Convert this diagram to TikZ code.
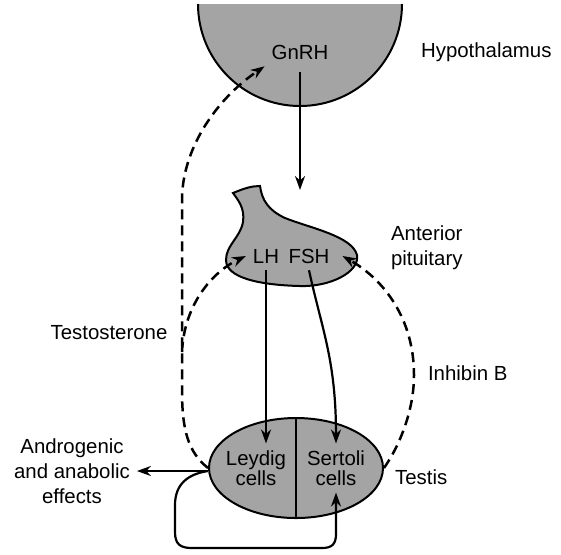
\documentclass[tikz,border=0pt]{standalone}
\usepackage{fontspec}
\setmainfont{Liberation Sans}
\usetikzlibrary{arrows.meta,positioning,calc,shapes.geometric}
\definecolor{GlandGrey}{HTML}{A4A4A4}

\begin{document}
\begin{tikzpicture}[x=0.5pt,y=-0.5pt,
        every node/.style={font=\fontsize{10.2}{12.5}\selectfont},
        gland/.style={fill=GlandGrey,draw=black,line width=1pt},
        hormone/.style={-{Stealth[length=7pt,width=5pt]},line width=1.1pt},
        feedback/.style={hormone,dash pattern=on 5pt off 3pt,line width=1.25pt}
      ]
        \useasboundingbox (0,0) rectangle (561,554);
        \fill[GlandGrey] (198,4) arc[start angle=180,end angle=0,radius=102] -- cycle;
        \draw[line width=1pt] (198,4) arc[start angle=180,end angle=0,radius=102];
        \node (gnrh) at (300,52) {GnRH};
        \node[anchor=west] (hypo) at (414,52) {Hypothalamus};

        \draw[gland] (233,193) .. controls (245,188) and (252,186) .. (260,186)
          .. controls (262,200) and (268,210) .. (285,218)
          .. controls (310,228) and (352,236) .. (357,255)
          .. controls (360,272) and (330,287) .. (300,286)
          .. controls (260,285) and (226,278) .. (226,260)
          .. controls (226,245) and (240,238) .. (243,222)
          .. controls (245,208) and (238,200) .. (233,193) -- cycle;
        \coordinate (pittop) at (300,190);
        \node (lh) at (266,256) {LH};
        \node (fsh) at (309,256) {FSH};
        \node[anchor=west,align=left] (antpit) at (384,248) {Anterior\\pituitary};

        \node[gland,ellipse,minimum width=87pt,minimum height=50pt,inner sep=0pt] (testis) at (296,468) {};
        \draw[line width=1pt] (testis.north) -- (testis.south);
        \node[align=center] (leydig) at (256,468) {Leydig\\[-2.5pt]cells};
        \node[align=center] (sertoli) at (336,468) {Sertoli\\[-2.5pt]cells};
        \node[anchor=west] (testislbl) at (388,477) {Testis};

        \node[align=center] (effects) at (72,471) {Androgenic\\and anabolic\\effects};
        \node (testo) at (109,333) {Testosterone};
        \node[anchor=west] (inhibin) at (421,373) {Inhibin B};
        \coordinate (split) at (182,352);

        \draw[hormone,shorten <=3pt] (gnrh.south) -- (pittop);
        \draw[hormone] (lh.south) -- (lh.south |- leydig.north);
        \draw[hormone] (fsh.south) .. controls (322,330) and (336,360) .. (sertoli.north);
        \draw[hormone] (testis.west |- effects) -- (effects);
        \draw[hormone] (testis.west |- effects) .. controls (188,474) and (175,484) .. (175,505)
          -- (175,532) .. controls (175,544) and (180,548) .. (192,548)
          -- (322,548) .. controls (332,548) and (336,544) .. (336,534) -- (sertoli.south);
        \draw[feedback] (testis.west) .. controls (188,452) and (182,430) .. (182,390)
          -- (split) -- (182,200) .. controls (182,150) and (215,100) .. (gnrh.south west);
        \draw[feedback] (split) .. controls (184,305) and (212,272) .. (lh.west);
        \draw[feedback] (testis.east) .. controls (400,445) and (414,410) .. (414,375)
          .. controls (414,320) and (385,280) .. ([xshift=3pt]fsh.east);
      \end{tikzpicture}
\end{document}
